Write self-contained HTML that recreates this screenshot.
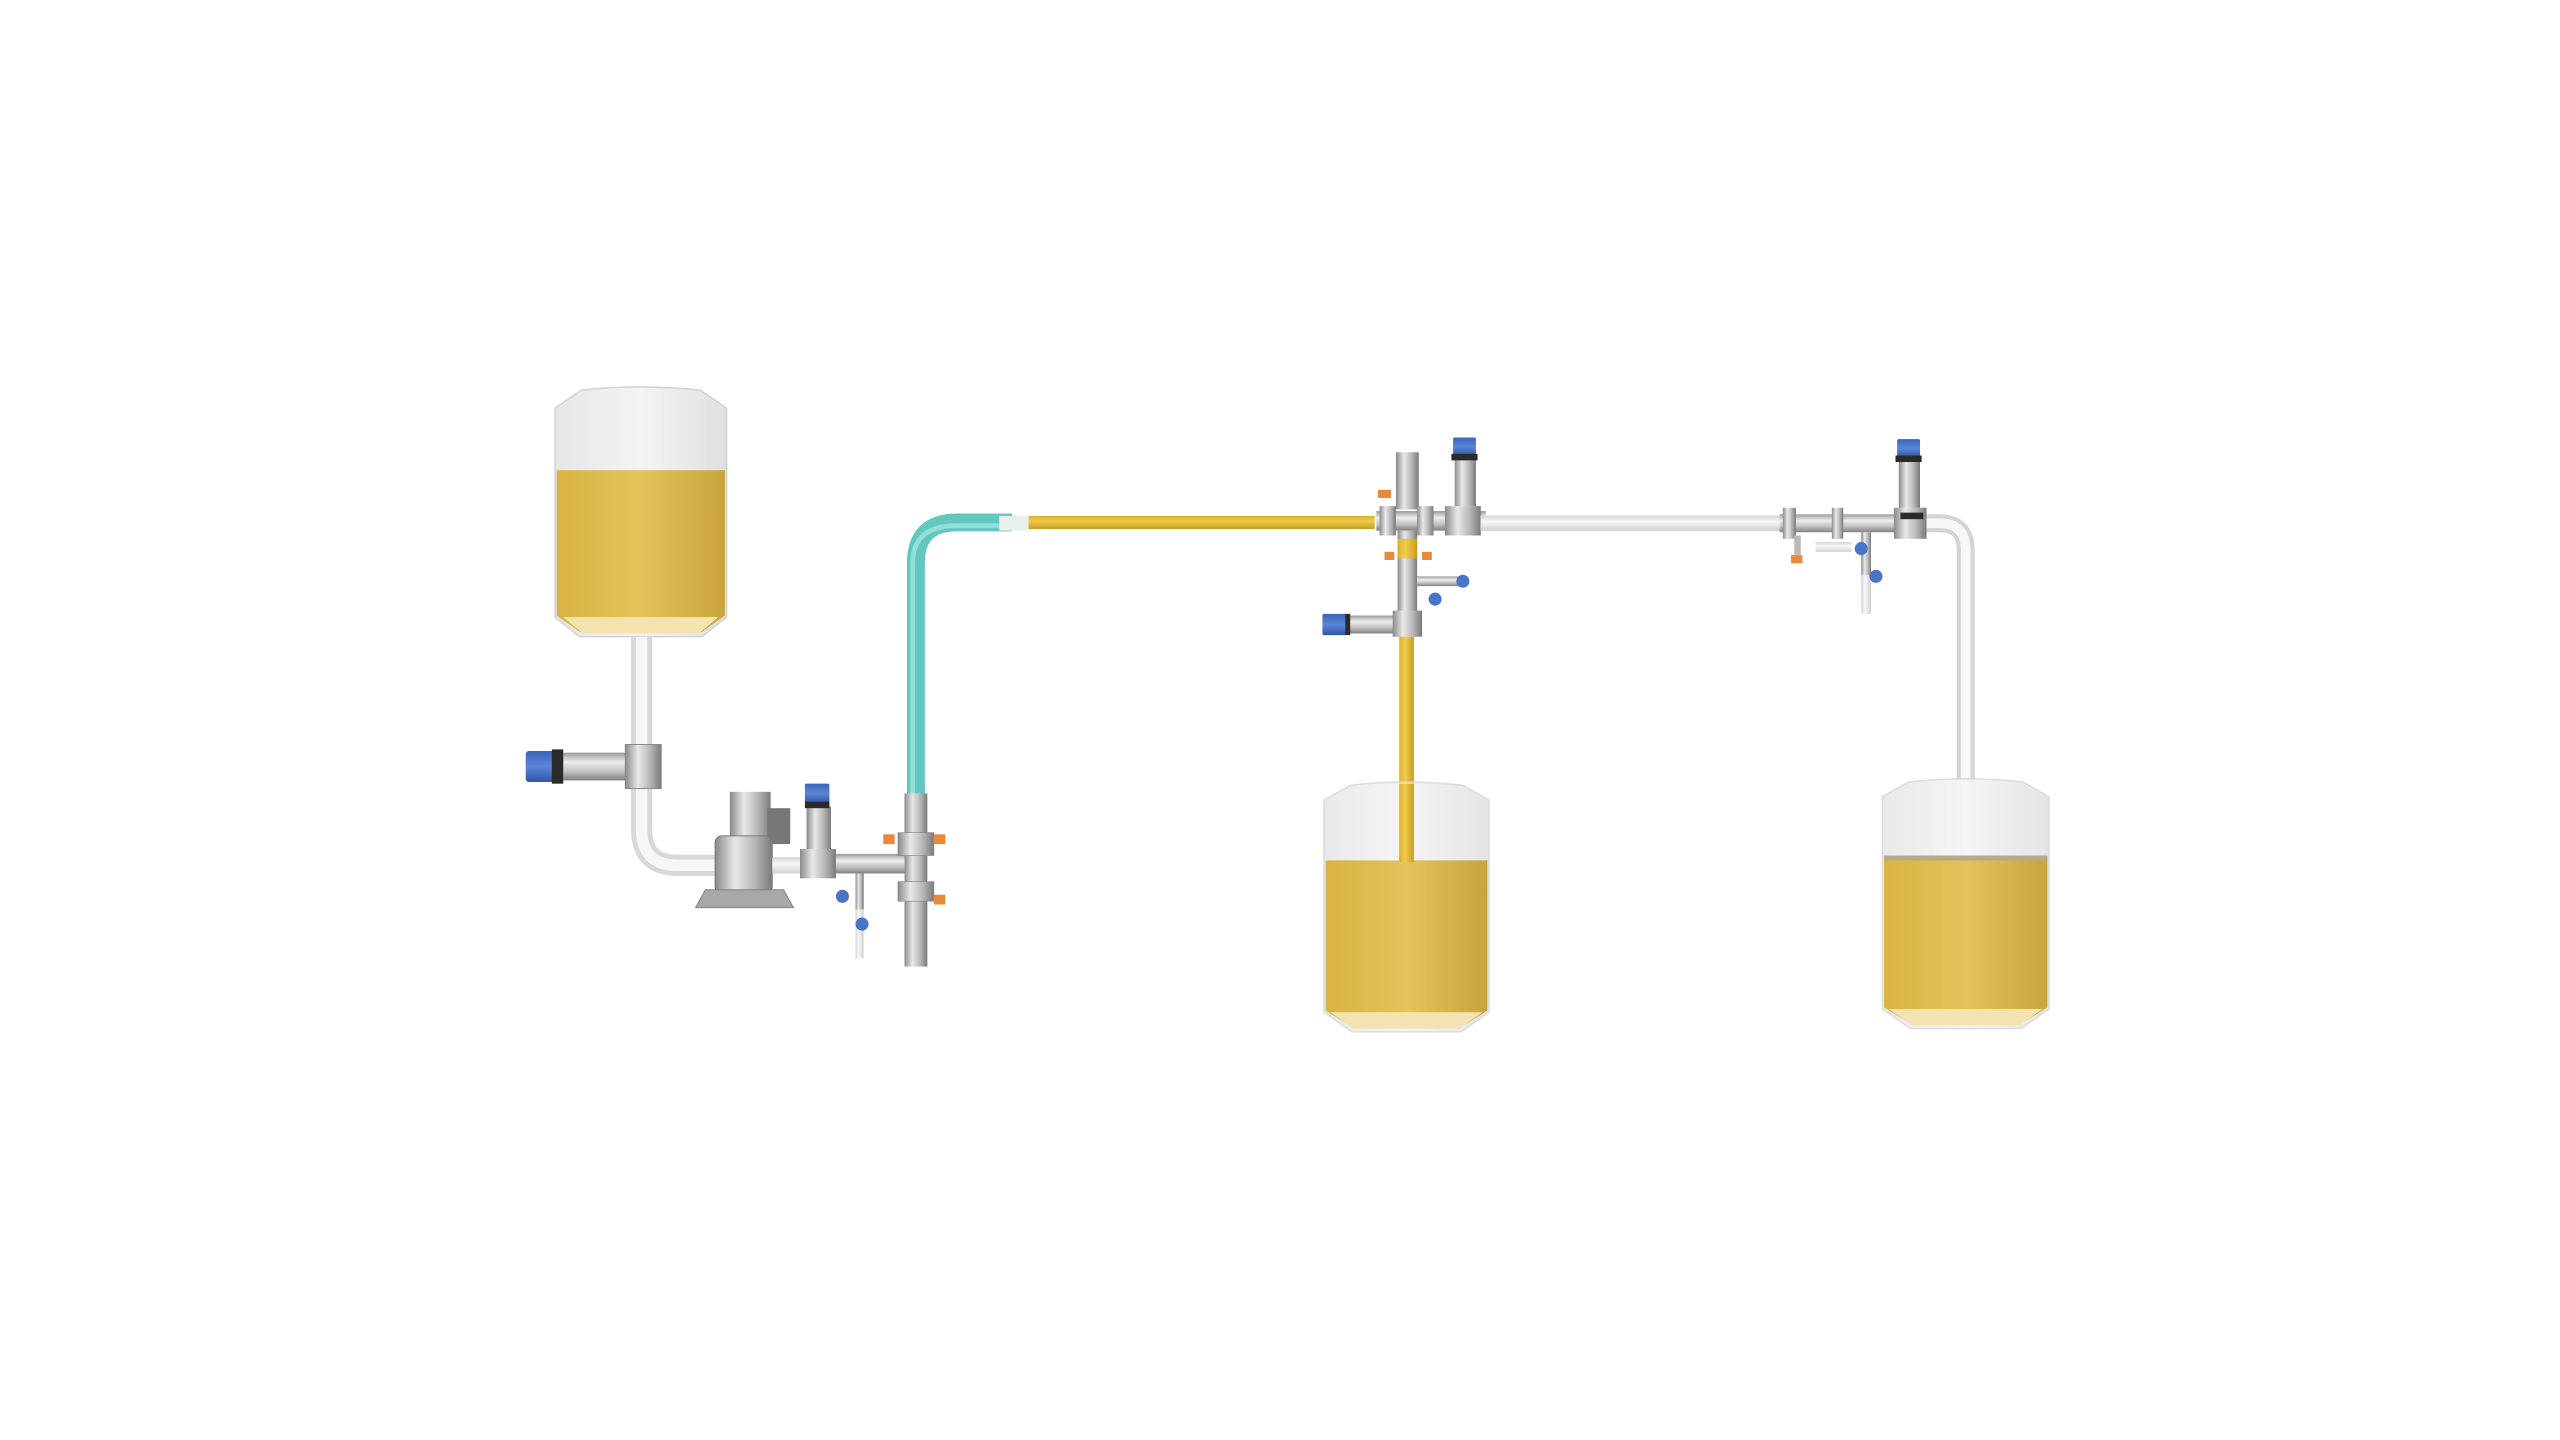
<!DOCTYPE html>
<html><head><meta charset="utf-8"><style>
html,body{margin:0;padding:0;background:#fff;width:2560px;height:1440px;overflow:hidden}
svg{display:block}
</style></head><body>
<svg width="2560" height="1440" viewBox="0 0 1568 882" xmlns="http://www.w3.org/2000/svg">
<defs>
<linearGradient id="liq" x1="0" x2="1"><stop offset="0" stop-color="#d9b443"/><stop offset="0.5" stop-color="#e3c35a"/><stop offset="1" stop-color="#c9a43c"/></linearGradient>
<linearGradient id="glass" x1="0" x2="1"><stop offset="0" stop-color="#e6e6e6"/><stop offset="0.5" stop-color="#f4f4f4"/><stop offset="1" stop-color="#e0e0e0"/></linearGradient>
<linearGradient id="steel" x1="0" x2="1"><stop offset="0" stop-color="#8a8a8a"/><stop offset="0.35" stop-color="#e8e8e8"/><stop offset="0.7" stop-color="#b5b5b5"/><stop offset="1" stop-color="#7a7a7a"/></linearGradient>
<linearGradient id="steelh" x1="0" x2="0" y1="0" y2="1"><stop offset="0" stop-color="#9a9a9a"/><stop offset="0.35" stop-color="#eeeeee"/><stop offset="0.7" stop-color="#bdbdbd"/><stop offset="1" stop-color="#808080"/></linearGradient>
<linearGradient id="clearv" x1="0" x2="1"><stop offset="0" stop-color="#d6d6d6"/><stop offset="0.4" stop-color="#f7f7f7"/><stop offset="1" stop-color="#d0d0d0"/></linearGradient>
<linearGradient id="clearh" x1="0" x2="0" y1="0" y2="1"><stop offset="0" stop-color="#d6d6d6"/><stop offset="0.4" stop-color="#f7f7f7"/><stop offset="1" stop-color="#d0d0d0"/></linearGradient>
<linearGradient id="yelh" x1="0" x2="0" y1="0" y2="1"><stop offset="0" stop-color="#d9b02e"/><stop offset="0.4" stop-color="#f0cc4a"/><stop offset="1" stop-color="#c79d22"/></linearGradient>
<linearGradient id="yelv" x1="0" x2="1"><stop offset="0" stop-color="#d9b02e"/><stop offset="0.4" stop-color="#f0cc4a"/><stop offset="1" stop-color="#c79d22"/></linearGradient>
<linearGradient id="blueh" x1="0" x2="0" y1="0" y2="1"><stop offset="0" stop-color="#3a64b8"/><stop offset="0.5" stop-color="#5a86d8"/><stop offset="1" stop-color="#2f56a6"/></linearGradient>
</defs>

<!-- Tank 1 -->
<path d="M340,250 L356,239 Q392,235 429,239 L445,250 L445,378 L430,390 L355,390 L340,378 Z" fill="url(#glass)" stroke="#d4d4d4" stroke-width="1"/>
<path d="M341,288 L444,288 L444,377 L430,387 L355,387 L341,377 Z" fill="url(#liq)"/>
<path d="M345,378 L440,378 L428,388 L357,388 Z" fill="#f3e3b0"/>
<!-- pipe tank1 down & bend to pump -->
<path d="M393,390 L393,508 Q393,530 415,530 L440,530" fill="none" stroke="#d8d8d8" stroke-width="13"/>
<path d="M393,390 L393,508 Q393,530 415,530 L440,530" fill="none" stroke="#f6f6f6" stroke-width="7"/>
<!-- left actuator valve -->
<rect x="345" y="461" width="38" height="17" fill="url(#steelh)"/>
<rect x="322" y="460" width="20" height="19" rx="2" fill="url(#blueh)"/>
<rect x="338" y="459" width="7" height="21" fill="#2a2a2a"/>
<rect x="383" y="456" width="22" height="27" fill="url(#steel)" stroke="#888" stroke-width="0.6"/>
<!-- pump -->
<rect x="447" y="485" width="25" height="30" fill="url(#steel)"/>
<rect x="470" y="495" width="14" height="22" fill="#777"/>
<rect x="438" y="512" width="35" height="35" rx="4" fill="url(#steel)" stroke="#777" stroke-width="0.6"/>
<path d="M426,556 L432,545 L480,545 L486,556 Z" fill="#a8a8a8" stroke="#777" stroke-width="0.5"/>
<!-- pipe after pump -->
<rect x="473" y="525" width="85" height="10" fill="url(#clearh)"/>
<rect x="500" y="523" width="55" height="12" fill="url(#steelh)"/>
<rect x="494" y="494" width="15" height="28" fill="url(#steel)"/>
<rect x="493" y="480" width="15" height="12" rx="1" fill="url(#blueh)"/>
<rect x="493" y="491" width="15" height="4" fill="#2a2a2a"/>
<rect x="490" y="520" width="22" height="18" fill="url(#steel)"/>
<rect x="524" y="535" width="5" height="52" fill="url(#clearv)"/>
<rect x="524" y="535" width="5" height="22" fill="url(#steel)"/>
<circle cx="516" cy="549" r="4" fill="#4a74c8"/>
<circle cx="528" cy="566" r="4" fill="#4a74c8"/>

<!-- teal riser -->
<path d="M561,486 L561,345 Q561,320 586,320 L620,320" fill="none" stroke="#63c7c0" stroke-width="11"/>
<path d="M559,486 L559,345 Q559,322 586,322 L620,322" fill="none" stroke="#8ee0d8" stroke-width="3"/>
<rect x="612" y="316" width="20" height="9" fill="#e8f0ee"/>
<!-- yellow horizontal -->
<rect x="630" y="316" width="212" height="8" fill="url(#yelh)"/>
<!-- steel vertical -->
<rect x="554" y="486" width="14" height="106" fill="url(#steel)"/>
<rect x="550" y="510" width="22" height="14" fill="url(#steel)" stroke="#888" stroke-width="0.4"/>
<rect x="550" y="540" width="22" height="12" fill="url(#steel)" stroke="#888" stroke-width="0.4"/>
<rect x="541" y="511" width="7" height="6" fill="#e98a3a"/>
<rect x="572" y="511" width="7" height="6" fill="#e98a3a"/>
<rect x="572" y="548" width="7" height="6" fill="#e98a3a"/>

<!-- middle cluster -->
<rect x="855" y="277" width="14" height="35" fill="url(#steel)"/>
<rect x="843" y="313" width="67" height="12" fill="url(#steelh)"/>
<rect x="845" y="310" width="10" height="18" fill="url(#steel)"/>
<rect x="868" y="310" width="10" height="18" fill="url(#steel)"/>
<rect x="885" y="310" width="22" height="18" fill="url(#steel)"/>
<rect x="891" y="282" width="13" height="28" fill="url(#steel)"/>
<rect x="890" y="268" width="14" height="11" rx="1" fill="url(#blueh)"/>
<rect x="889" y="278" width="16" height="4" fill="#2a2a2a"/>
<rect x="844" y="300" width="8" height="5" fill="#e98a3a"/>
<rect x="848" y="338" width="6" height="5" fill="#e98a3a"/>
<rect x="871" y="338" width="6" height="5" fill="#e98a3a"/>
<rect x="856" y="325" width="12" height="65" fill="url(#steel)"/>
<rect x="856" y="330" width="12" height="12" fill="url(#yelv)"/>
<rect x="868" y="353" width="28" height="6" fill="url(#steelh)"/>
<circle cx="896" cy="356" r="4" fill="#4a74c8"/>
<circle cx="879" cy="367" r="4" fill="#4a74c8"/>
<rect x="826" y="377" width="30" height="11" fill="url(#steelh)"/>
<rect x="810" y="376" width="15" height="13" rx="1" fill="url(#blueh)"/>
<rect x="824" y="376" width="3" height="13" fill="#2a2a2a"/>
<rect x="853" y="374" width="18" height="16" fill="url(#steel)"/>
<rect x="857" y="390" width="9" height="140" fill="url(#yelv)"/>

<!-- clear horizontal -->
<rect x="907" y="316" width="185" height="9" fill="url(#clearh)" stroke="#d8d8d8" stroke-width="0.5"/>
<!-- right cluster -->
<rect x="1090" y="315" width="90" height="11" fill="url(#steelh)"/>
<rect x="1092" y="311" width="8" height="19" fill="url(#steel)"/>
<rect x="1122" y="311" width="7" height="19" fill="url(#steel)"/>
<rect x="1160" y="311" width="20" height="19" fill="url(#steel)"/>
<rect x="1164" y="314" width="14" height="4" fill="#2a2a2a"/>
<rect x="1163" y="283" width="13" height="28" fill="url(#steel)"/>
<rect x="1162" y="269" width="14" height="11" rx="1" fill="url(#blueh)"/>
<rect x="1161" y="279" width="16" height="4" fill="#2a2a2a"/>
<rect x="1099" y="328" width="4" height="12" fill="#bbb"/>
<rect x="1097" y="340" width="7" height="5" fill="#e98a3a"/>
<rect x="1112" y="332" width="22" height="6" fill="url(#clearh)"/>
<rect x="1140" y="326" width="6" height="50" fill="url(#clearv)"/>
<rect x="1140" y="326" width="6" height="26" fill="url(#steel)"/>
<circle cx="1140" cy="336" r="4" fill="#4a74c8"/>
<circle cx="1149" cy="353" r="4" fill="#4a74c8"/>
<path d="M1180,320.5 L1188,320.5 Q1204,320.5 1204,337 L1204,478" fill="none" stroke="#d4d4d4" stroke-width="11"/>
<path d="M1180,320.5 L1188,320.5 Q1204,320.5 1204,337 L1204,478" fill="none" stroke="#f7f7f7" stroke-width="6"/>

<!-- Tank 2 -->
<path d="M811,490 L827,481 Q861,477 896,481 L912,490 L912,620 L895,632 L828,632 L811,620 Z" fill="url(#glass)" stroke="#d8d8d8" stroke-width="1" opacity="0.85"/>
<path d="M812,527 L911,527 L911,619 L895,629 L828,629 L812,619 Z" fill="url(#liq)"/>
<path d="M815,620 L908,620 L894,630 L829,630 Z" fill="#f3e3b0"/>
<rect x="857" y="480" width="9" height="48" fill="url(#yelv)"/>

<!-- Tank 3 -->
<path d="M1153,488 L1169,479 Q1204,475 1239,479 L1255,488 L1255,618 L1238,630 L1170,630 L1153,618 Z" fill="url(#glass)" stroke="#d8d8d8" stroke-width="1" opacity="0.85"/>
<path d="M1154,525 L1254,525 L1254,617 L1238,627 L1170,627 L1154,617 Z" fill="url(#liq)"/>
<rect x="1154" y="524" width="100" height="3" fill="#b9a98a"/>
<path d="M1157,618 L1251,618 L1237,628 L1171,628 Z" fill="#f3e3b0"/>
</svg>
</body></html>
